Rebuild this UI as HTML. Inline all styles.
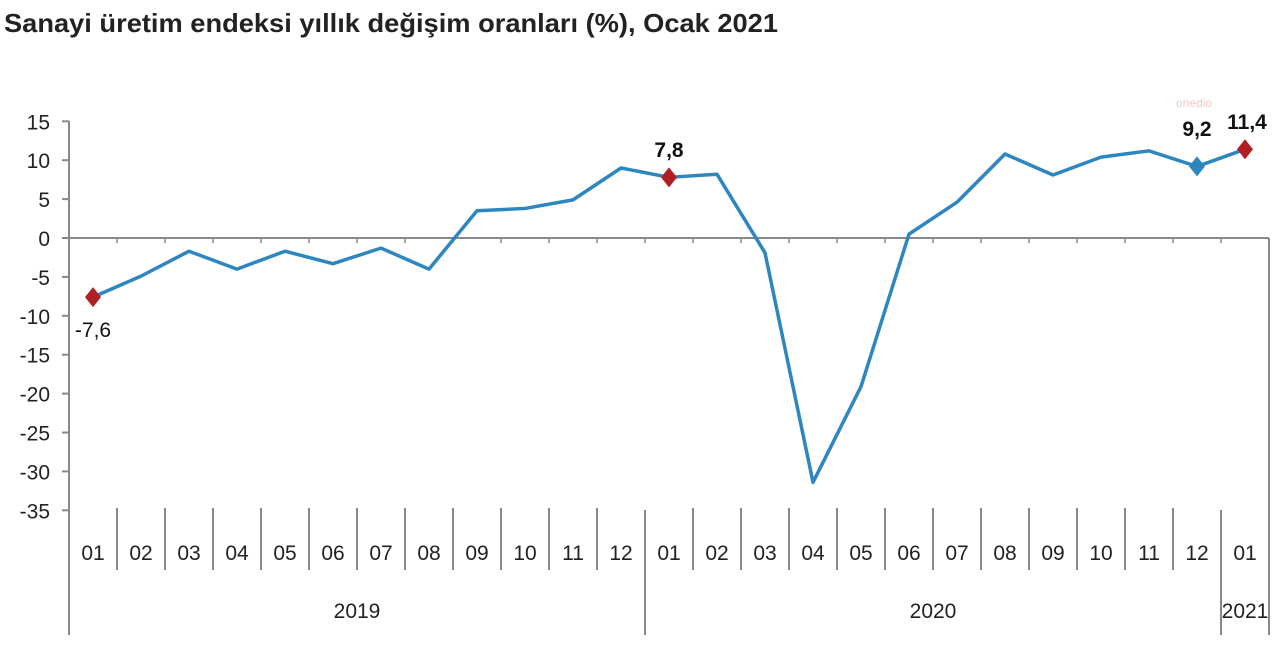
<!DOCTYPE html><html><head><meta charset="utf-8"><style>body{margin:0;background:#fff}</style></head><body>
<svg width="1280" height="640" xmlns="http://www.w3.org/2000/svg" font-family="Liberation Sans, sans-serif">
<text x="4" y="32" font-size="26" font-weight="bold" fill="#222" textLength="774" lengthAdjust="spacingAndGlyphs">Sanayi üretim endeksi  yıllık değişim oranları (%), Ocak 2021</text>
<g stroke="#888" stroke-width="2">
<line x1="69" y1="121" x2="69" y2="635"/>
<line x1="69" y1="238" x2="1269" y2="238"/>
</g>
<g font-size="21" fill="#222" text-anchor="end" id="yl"></g>
<g id="ax"></g>
<polyline id="ln" fill="none" stroke="#2e86c1" stroke-width="3.5" stroke-linejoin="round"/>
<g id="mk"></g>
<g font-size="21" fill="#111" font-weight="bold" text-anchor="middle">
<text x="93" y="337" font-weight="normal">-7,6</text>
<text x="669" y="157">7,8</text>
<text x="1197" y="136">9,2</text>
<text x="1247" y="129">11,4</text>
</g>
<text x="1176" y="107" font-size="12" fill="#f3c7c7">onedio</text>
<g font-size="21" fill="#222" text-anchor="middle">
<text x="357" y="618">2019</text><text x="933" y="618">2020</text><text x="1245" y="618">2021</text>
</g>
<script>
var ns="http://www.w3.org/2000/svg";
function Y(v){return 238-v*7.78}
function el(p,t,a,txt){var e=document.createElementNS(ns,t);for(var k in a)e.setAttribute(k,a[k]);if(txt)e.textContent=txt;document.getElementById(p).appendChild(e);return e}
for(var v=15;v>=-35;v-=5){el("yl","text",{x:50,y:Y(v)+8},String(v));el("ax","line",{x1:62,x2:69,y1:Y(v),y2:Y(v),stroke:"#888","stroke-width":2});}
var m=["01","02","03","04","05","06","07","08","09","10","11","12"];
var labs=m.concat(m).concat(["01"]);
for(var i=0;i<25;i++){var x=69+48*i;
 if(i>0){var big=(i==12||i==24);el("ax","line",{x1:x,x2:x,y1:big?510:508,y2:big?635:570,stroke:"#888","stroke-width":2});}
 el("ax","line",{x1:x,x2:x,y1:238,y2:243,stroke:"#888","stroke-width":1.5});
 el("ax","text",{x:x+24,y:560,"font-size":21,fill:"#222","text-anchor":"middle"},labs[i]);}
el("ax","line",{x1:1269,x2:1269,y1:238,y2:635,stroke:"#888","stroke-width":2});
var d=[-7.6,-4.9,-1.7,-4.0,-1.7,-3.3,-1.3,-4.0,3.5,3.8,4.9,9.0,7.8,8.2,-1.9,-31.4,-19.1,0.5,4.6,10.8,8.1,10.4,11.2,9.2,11.4];
document.getElementById("ln").setAttribute("points",d.map(function(v,i){return (93+48*i)+","+Y(v)}).join(" "));
function dia(i,c){var x=93+48*i,y=Y(d[i]);el("mk","polygon",{points:(x)+","+(y-10)+" "+(x+8)+","+y+" "+x+","+(y+10)+" "+(x-8)+","+y,fill:c});}
dia(0,"#b01f24");dia(12,"#b01f24");dia(24,"#b01f24");dia(23,"#2e86c1");
</script>
</svg></body></html>
